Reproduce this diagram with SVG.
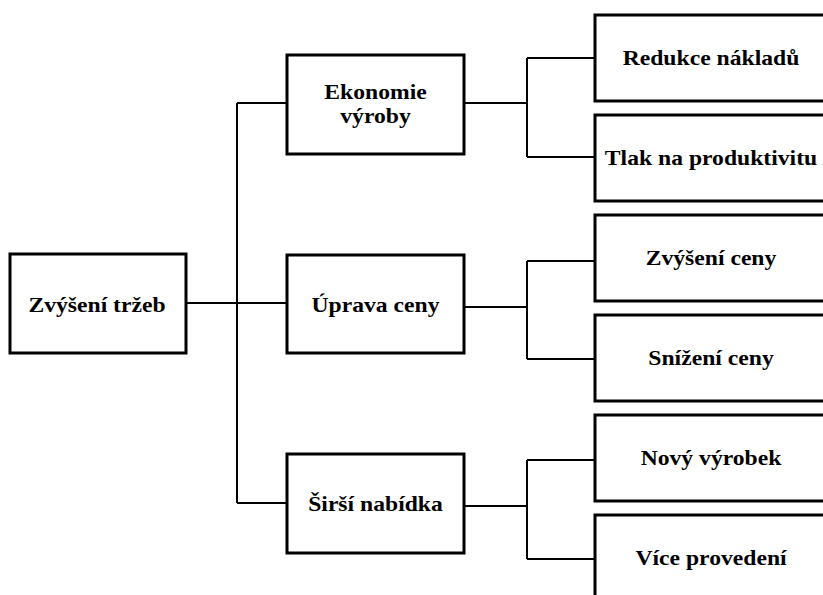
<svg xmlns="http://www.w3.org/2000/svg" width="823" height="595" viewBox="0 0 823 595">
<style>
.box{fill:#fff;stroke:#000;stroke-width:3}
.lbl{font-family:"Liberation Serif","Times New Roman",serif;font-weight:bold;font-size:22px;fill:#000;text-anchor:middle}
.con{fill:none;stroke:#000;stroke-width:2}
</style>
<rect width="823" height="595" fill="#fff"/>
<g id="connectors">
<path class="con" d="M186 303H287M237 103V503M237 103H287M237 503H287"/>
<path class="con" d="M464 103H527M527 58V157M527 58H595M527 157H595"/>
<path class="con" d="M464 307H527M527 261V359M527 261H595M527 359H595"/>
<path class="con" d="M464 506H527M527 460V559M527 460H595M527 559H595"/>
</g>
<g id="n-root"><rect class="box" x="10" y="254" width="176" height="99"/><text class="lbl" transform="translate(97 312) scale(1.075 1)">Zvýšení tržeb</text></g>
<g id="n-ekonomie"><rect class="box" x="287" y="55" width="177" height="99"/><text class="lbl" transform="translate(375.5 99) scale(1.075 1)">Ekonomie</text><text class="lbl" transform="translate(375.5 123) scale(1.075 1)">výroby</text></g>
<g id="n-uprava"><rect class="box" x="287" y="255" width="177" height="98"/><text class="lbl" transform="translate(375.5 312) scale(1.075 1)">Úprava ceny</text></g>
<g id="n-sirsi"><rect class="box" x="287" y="454" width="177" height="99"/><text class="lbl" transform="translate(375.5 511) scale(1.075 1)">Širší nabídka</text></g>
<g id="n-redukce"><rect class="box" x="595" y="15" width="240" height="86"/><text class="lbl" transform="translate(711 65) scale(1.075 1)">Redukce nákladů</text></g>
<g id="n-tlak"><rect class="box" x="595" y="115" width="240" height="86"/><text class="lbl" transform="translate(711 165) scale(1.075 1)">Tlak na produktivitu</text></g>
<g id="n-zvyseni"><rect class="box" x="595" y="215" width="240" height="86"/><text class="lbl" transform="translate(711 265) scale(1.075 1)">Zvýšení ceny</text></g>
<g id="n-snizeni"><rect class="box" x="595" y="315" width="240" height="86"/><text class="lbl" transform="translate(711 365) scale(1.075 1)">Snížení ceny</text></g>
<g id="n-novy"><rect class="box" x="595" y="415" width="240" height="86"/><text class="lbl" transform="translate(711 465) scale(1.075 1)">Nový výrobek</text></g>
<g id="n-vice"><rect class="box" x="595" y="515" width="240" height="86"/><text class="lbl" transform="translate(711 565) scale(1.075 1)">Více provedení</text></g>
</svg>
